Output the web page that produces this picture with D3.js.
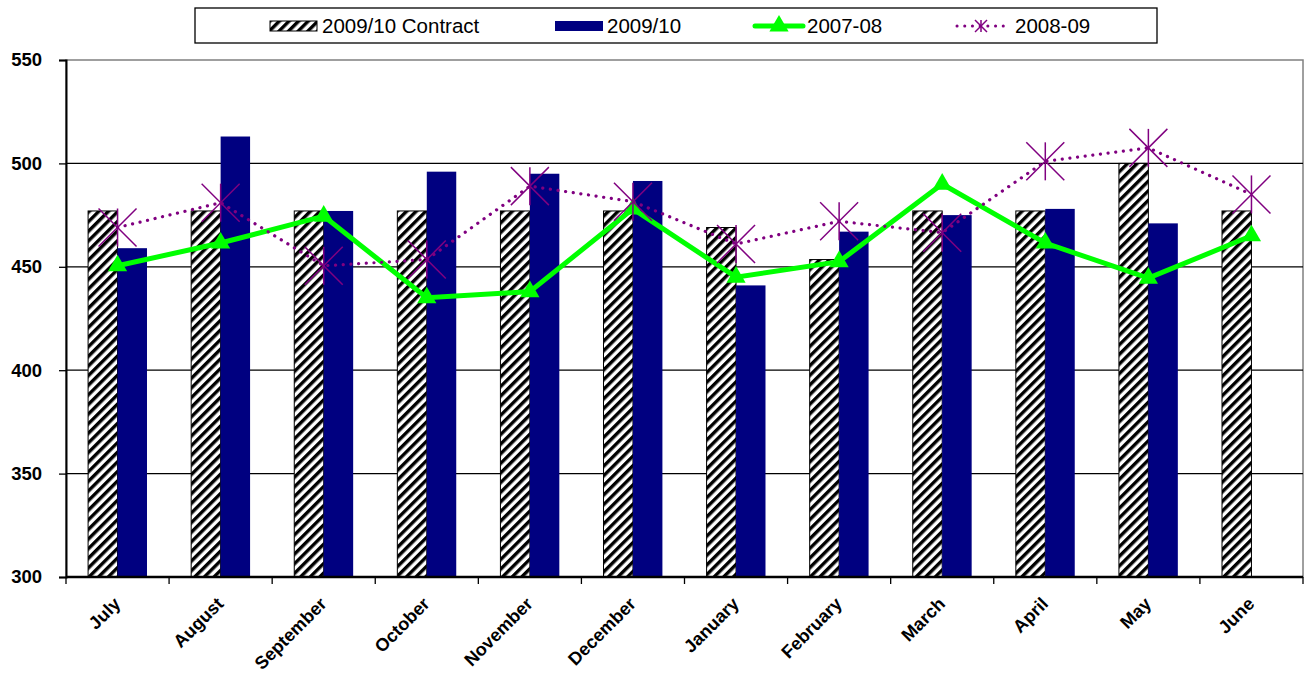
<!DOCTYPE html>
<html><head><meta charset="utf-8">
<script src="https://cdn.jsdelivr.net/npm/d3@7"></script>
<style>body{margin:0;background:#fff}svg{display:block}text{font-family:Arial,"Liberation Sans",sans-serif}</style>
</head><body><svg id="c" width="1310" height="675"></svg>
<script>
const months = ["July","August","September","October","November","December","January","February","March","April","May","June"];
const contract0910 = [477,477,477,477,477,477,469,453.5,477,477,500,477];
const actual0910 = [459,513,477,496,495,491.5,441,467,475,478,471,null];
const s0708 = [450.5,461.5,474.5,435,438,478,445,452.5,490,461.5,444.5,465];
const s0809 = [469,481,450.5,453.5,489,481.5,461,472,466.5,501,507.5,485];
const yTicks = [300,350,400,450,500,550];
const legendLabels = ["2009/10 Contract","2009/10","2007-08","2008-09"];

const svg = d3.select("#c");
const L=66,R=1303,T=60,B=577;
const x = d3.scaleBand().domain(months).range([L,R]).padding(0);
const y = d3.scaleLinear().domain([300,550]).range([B,T]);
const bw = x.bandwidth()/3.5;

const defs = svg.append("defs");
const pat = defs.append("pattern").attr("id","hatch").attr("patternUnits","userSpaceOnUse")
  .attr("width",6.8).attr("height",6.8).attr("patternTransform","rotate(45)");
pat.append("rect").attr("width",6.8).attr("height",6.8).attr("fill","#fff");
pat.append("rect").attr("width",3.4).attr("height",6.8).attr("fill","#000");

// plot border
svg.append("rect").attr("x",L).attr("y",T).attr("width",R-L).attr("height",B-T)
  .attr("fill","none").attr("stroke","#808080").attr("stroke-width",1.5);
// gridlines
svg.append("g").selectAll("line").data(yTicks.filter(d=>d>300&&d<550)).join("line")
  .attr("x1",L).attr("x2",R).attr("y1",d=>y(d)).attr("y2",d=>y(d))
  .attr("stroke","#000").attr("stroke-width",1.3);

// bars
const cx = m => x(m)+x.bandwidth()/2;
svg.append("g").selectAll("rect").data(months.map((m,i)=>({m,v:contract0910[i]}))).join("rect")
  .attr("x",d=>cx(d.m)-bw).attr("width",bw).attr("y",d=>y(d.v)).attr("height",d=>B-y(d.v))
  .attr("fill","url(#hatch)").attr("stroke","#000").attr("stroke-width",1);
svg.append("g").selectAll("rect").data(months.map((m,i)=>({m,v:actual0910[i]})).filter(d=>d.v!=null)).join("rect")
  .attr("x",d=>cx(d.m)).attr("width",bw).attr("y",d=>y(d.v)).attr("height",d=>B-y(d.v))
  .attr("fill","#000080");

// axes
const yAxis = svg.append("g").attr("transform",`translate(${L},0)`)
  .call(d3.axisLeft(y).tickValues(yTicks).tickSize(7).tickPadding(17));
yAxis.select(".domain").attr("stroke","#000").attr("stroke-width",2);
yAxis.selectAll("line").attr("stroke","#000").attr("stroke-width",1.3);
yAxis.selectAll("text").attr("font-size",18.5).attr("font-weight","bold").attr("fill","#000")
  .attr("font-family","Arial,'Liberation Sans',sans-serif");

const xb = d3.scaleLinear().domain([0,12]).range([L,R]);
const xAxis = svg.append("g").attr("transform",`translate(0,${B})`);
xAxis.append("line").attr("x1",L).attr("x2",R).attr("stroke","#000").attr("stroke-width",2.5);
xAxis.selectAll(".tk").data(d3.range(13)).join("line").attr("class","tk")
  .attr("x1",d=>xb(d)).attr("x2",d=>xb(d)).attr("y1",0).attr("y2",7).attr("stroke","#000").attr("stroke-width",1.3);
xAxis.selectAll("text").data(months).join("text")
  .attr("transform",d=>`translate(${cx(d)+4},${28}) rotate(-45)`)
  .attr("text-anchor","end").attr("font-size",18).attr("font-weight","bold").text(d=>d);

// lines
const line = d3.line().x(d=>cx(d.m)).y(d=>y(d.v));
const d0708 = months.map((m,i)=>({m,v:s0708[i]}));
const d0809 = months.map((m,i)=>({m,v:s0809[i]}));
svg.append("path").datum(d0708).attr("d",line).attr("fill","none").attr("stroke","#00ff00")
  .attr("stroke-width",5).attr("stroke-linejoin","miter");
const tri = d3.symbol().type(d3.symbolTriangle).size(160);
svg.append("g").selectAll("path").data(d0708).join("path")
  .attr("d",tri).attr("transform",d=>`translate(${cx(d.m)},${y(d.v)})`).attr("fill","#00ff00");

svg.append("path").datum(d0809).attr("d",line).attr("fill","none").attr("stroke","#800080")
  .attr("stroke-width",3.2).attr("stroke-dasharray","0.1,7.6").attr("stroke-linecap","round");
function star(g,s){
  g.append("line").attr("x1",-s).attr("y1",-s).attr("x2",s).attr("y2",s);
  g.append("line").attr("x1",-s).attr("y1",s).attr("x2",s).attr("y2",-s);
  g.append("line").attr("x1",0).attr("y1",-s).attr("x2",0).attr("y2",s);
}
svg.append("g").selectAll("g").data(d0809).join("g")
  .attr("transform",d=>`translate(${cx(d.m)},${y(d.v)})`).attr("stroke","#800080").attr("stroke-width",1.5)
  .each(function(){star(d3.select(this),19);});

// legend
const lg = svg.append("g");
lg.append("rect").attr("x",195).attr("y",8).attr("width",962).attr("height",35)
  .attr("fill","#fff").attr("stroke","#000").attr("stroke-width",1.3);
const lx = [270,555,755,957];
const ly = 26;
lg.append("rect").attr("x",lx[0]).attr("y",ly-5).attr("width",47).attr("height",10).attr("fill","url(#hatch)").attr("stroke","#000").attr("stroke-width",1);
lg.append("rect").attr("x",lx[1]).attr("y",ly-5).attr("width",48).attr("height",10).attr("fill","#000080");
lg.append("line").attr("x1",lx[2]).attr("x2",lx[2]+48).attr("y1",ly).attr("y2",ly).attr("stroke","#00ff00").attr("stroke-width",5).attr("stroke-linecap","round");
lg.append("path").attr("d",tri).attr("transform",`translate(${lx[2]+24},${ly})`).attr("fill","#00ff00");
lg.append("line").attr("x1",lx[3]).attr("x2",lx[3]+48).attr("y1",ly).attr("y2",ly).attr("stroke","#800080").attr("stroke-width",3).attr("stroke-dasharray","0.1,7.6").attr("stroke-linecap","round");
const sg = lg.append("g").attr("transform",`translate(${lx[3]+24},${ly})`).attr("stroke","#800080").attr("stroke-width",1.5);
star(sg,6);
lg.selectAll("text").data(legendLabels).join("text")
  .attr("x",(d,i)=>lx[i]+52+(i==3?6:0)).attr("y",ly).attr("dy","0.36em").attr("font-size",20.5).text(d=>d);
</script></body></html>
